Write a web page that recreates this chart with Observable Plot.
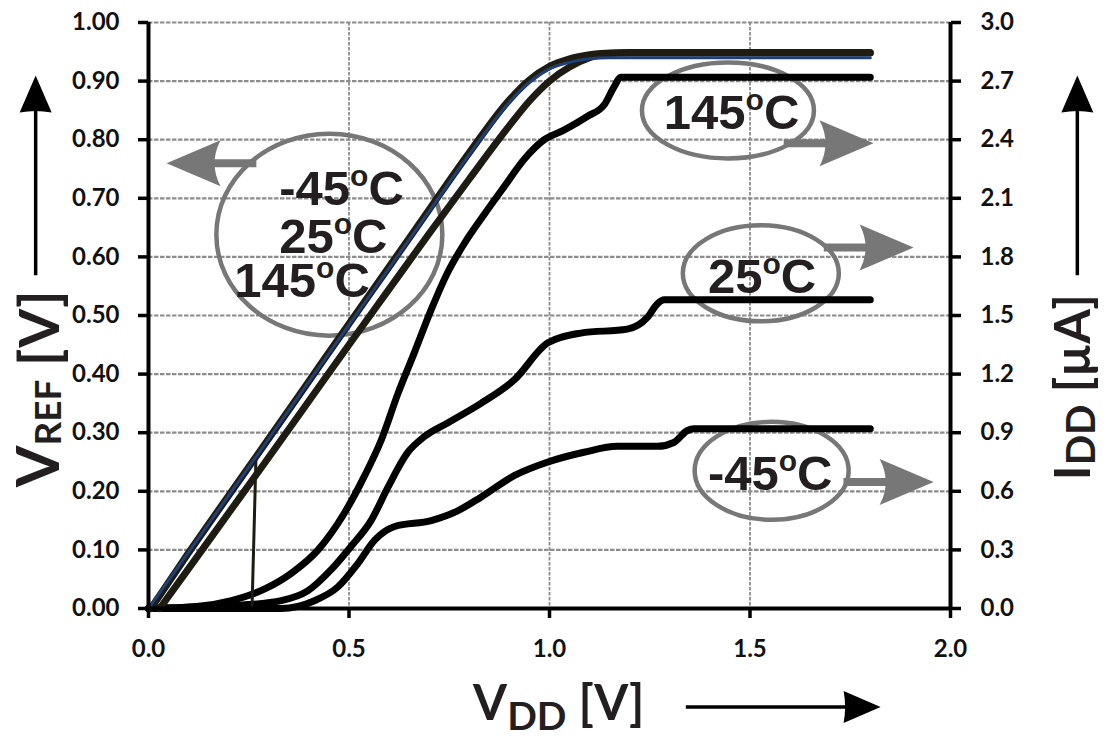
<!DOCTYPE html>
<html><head><meta charset="utf-8">
<script src="https://cdn.jsdelivr.net/npm/d3@7"></script>
<script src="https://cdn.jsdelivr.net/npm/@observablehq/plot@0.6"></script>
<style>body{margin:0;background:#fff}#chart{width:1107px;height:738px}</style>
</head><body><div id="chart"></div>
<script>
// ---------- axis ticks ----------
const xTicks = [0, 0.5, 1.0, 1.5, 2.0];
const yTicks = [0, 0.1, 0.2, 0.3, 0.4, 0.5, 0.6, 0.7, 0.8, 0.9, 1.0];
const iddTickLabels = ["0.0","0.3","0.6","0.9","1.2","1.5","1.8","2.1","2.4","2.7","3.0"];
const iddMax = 3.0; // right axis top (µA) aligned with VREF 1.00

// ---------- IDD curves (µA, right axis) ----------
const vddIdd145 = [0, 0.12, 0.207, 0.29, 0.356, 0.423, 0.489, 0.539, 0.58, 0.622, 0.663, 0.705, 0.746, 0.788, 0.838, 0.887, 0.937, 0.987, 1.037, 1.095, 1.137, 1.161, 1.178, 1.8];
const idd145    = [0, 0.01, 0.04, 0.10, 0.18, 0.30, 0.49, 0.68, 0.86, 1.10, 1.31, 1.53, 1.72, 1.87, 2.02, 2.16, 2.30, 2.40, 2.45, 2.52, 2.58, 2.67, 2.72, 2.72];

const vddIdd25 = [0, 0.248, 0.331, 0.397, 0.456, 0.506, 0.555, 0.597, 0.647, 0.688, 0.746, 0.829, 0.912, 0.996, 1.078, 1.194, 1.244, 1.269, 1.286, 1.8];
const idd25    = [0, 0.02, 0.04, 0.09, 0.20, 0.32, 0.45, 0.62, 0.80, 0.88, 0.95, 1.05, 1.17, 1.36, 1.41, 1.43, 1.49, 1.56, 1.58, 1.58];

const vddIddM45 = [0, 0.331, 0.414, 0.472, 0.522, 0.564, 0.614, 0.705, 0.771, 0.829, 0.912, 0.996, 1.086, 1.169, 1.269, 1.31, 1.343, 1.36, 1.8];
const iddM45    = [0, 0, 0.04, 0.11, 0.23, 0.35, 0.42, 0.45, 0.50, 0.57, 0.68, 0.75, 0.80, 0.83, 0.83, 0.85, 0.91, 0.92, 0.92];

// ---------- VREF curves (V, left axis) ----------
const vddVrefC = [0.028, 0.1, 0.2, 0.3, 0.4, 0.5, 0.6, 0.7, 0.8, 0.9, 0.95, 1.0, 1.05, 1.1, 1.15, 1.2, 1.8];
const vrefC    = [0, 0.068, 0.163, 0.258, 0.354, 0.45, 0.545, 0.64, 0.733, 0.824, 0.866, 0.9, 0.924, 0.94, 0.947, 0.949, 0.949];

const vddVrefB = [0.006, 0.1, 0.2, 0.3, 0.4, 0.5, 0.6, 0.7, 0.8, 0.9, 0.95, 1.0, 1.05, 1.1, 1.15, 1.8];
const vrefB    = [0, 0.095, 0.193, 0.29, 0.388, 0.486, 0.583, 0.681, 0.778, 0.868, 0.902, 0.925, 0.938, 0.945, 0.948, 0.948];

const vddVrefA = [0, 0.1, 0.2, 0.3, 0.4, 0.5, 0.6, 0.7, 0.8, 0.9, 0.95, 1.0, 1.05, 1.1, 1.15, 1.8];
const vrefA    = [0, 0.096, 0.193, 0.29, 0.387, 0.484, 0.581, 0.678, 0.775, 0.864, 0.898, 0.921, 0.932, 0.938, 0.940, 0.940];

const vddVrefJump = [0, 0.258, 0.262, 0.268];
const vrefJump    = [0, 0, 0.1, 0.259];

// ---------- annotations ----------
const annoEllipses = [
  {x: 0.451, y: 0.638, rx: 113, ry: 101},
  {x: 1.445, y: 0.850, rx: 86, ry: 48},
  {x: 1.527, y: 0.572, rx: 78, ry: 48},
  {x: 1.554, y: 0.235, rx: 77, ry: 49}
];
const annoTexts = [
  {x: 0.326, y: 0.688, text: "-45°C"},
  {x: 0.326, y: 0.606, text: "25°C"},
  {x: 0.214, y: 0.531, text: "145°C"},
  {x: 1.285, y: 0.819, text: "145°C"},
  {x: 1.395, y: 0.538, text: "25°C"},
  {x: 1.395, y: 0.202, text: "-45°C"}
];
const annoArrows = [
  {x1: 0.269, x2: 0.150, y1: 0.760, y2: 0.760, tx: 0.045, ty: 0.760, dir: "left"},
  {x1: 1.584, x2: 1.720, y1: 0.794, y2: 0.794, tx: 1.808, ty: 0.794, dir: "right"},
  {x1: 1.684, x2: 1.820, y1: 0.616, y2: 0.616, tx: 1.908, ty: 0.616, dir: "right"},
  {x1: 1.733, x2: 1.870, y1: 0.216, y2: 0.216, tx: 1.958, ty: 0.216, dir: "right"}
];
const titleArrows = [
  {x1: -0.2814, x2: -0.2814, y1: 0.5686, y2: 0.862, tx: -0.2814, ty: 0.9097, dir: "up"},
  {x1: 2.3163, x2: 2.3163, y1: 0.5686, y2: 0.862, tx: 2.3163, ty: 0.9097, dir: "up"},
  {x1: 1.340, x2: 1.790, y1: -0.1679, y2: -0.1679, tx: 1.8257, ty: -0.1679, dir: "right"}
];
const rotTitles = [
  {x: -0.2242, y: 0.207, parts: [["V", 60, 0], ["REF", 37, 2], [" [V]", 56, -2]]},
  {x: 2.349, y: 0.219, parts: [["I", 50, 0], ["DD", 40, 5], [" [µA]", 50, -5]]}
];
const xTitles = [
  {x: 0.8095, y: -0.190, parts: [["V", 49, 0], ["DD", 39, 10], [" [V]", 49, -10]]}
];

// ---------- helpers ----------
const rows = (xs, ys) => xs.map((x, i) => ({x, y: ys[i]}));
const joinParts = d => d.parts.map(p => p[0]).join("");
function ellipseSymbol(rx, ry) {
  const k = 0.5523;
  return {draw(ctx) {
    ctx.moveTo(rx, 0);
    ctx.bezierCurveTo(rx, k * ry, k * rx, ry, 0, ry);
    ctx.bezierCurveTo(-k * rx, ry, -rx, k * ry, -rx, 0);
    ctx.bezierCurveTo(-rx, -k * ry, -k * rx, -ry, 0, -ry);
    ctx.bezierCurveTo(k * rx, -ry, rx, -k * ry, rx, 0);
    ctx.closePath();
  }};
}
function headSymbol(dir, L, H, notch) {
  const [c, s] = dir === "left" ? [-1, 0] : dir === "up" ? [0, -1] : [1, 0];
  const P = (a, b) => [a * c - b * s, a * s + b * c];
  return {draw(ctx) {
    ctx.moveTo(0, 0);
    const p1 = P(-L, -H), q = P(-L + notch, 0), p2 = P(-L, H);
    ctx.lineTo(p1[0], p1[1]);
    ctx.quadraticCurveTo(q[0], q[1], p2[0], p2[1]);
    ctx.closePath();
  }};
}

const GRAY = "#777777", GRID = "#8c8c8c", DARK = "#1e1c12", BLUE = "#1f3f75", INK = "#231f20";
const annoFont = "'Liberation Sans', Arial, sans-serif";
const tickFont = "Lato, 'Open Sans', sans-serif";
const lineOpts = {x: "x", y: "y", curve: "monotone-x", strokeLinecap: "round", strokeLinejoin: "round"};
const iddY = d => d.y / iddMax;

const plot = Plot.plot({
  width: 1107, height: 738,
  marginLeft: 148, marginRight: 157, marginTop: 22, marginBottom: 130,
  x: {domain: [0, 2], label: null},
  y: {domain: [0, 1], label: null},
  style: {background: "#fff", fontFamily: tickFont, fontSize: "24px", fontWeight: "bold", color: INK, overflow: "visible"},
  marks: [
    Plot.gridY(yTicks.slice(1), {stroke: GRID, strokeOpacity: 1, strokeWidth: 2.2, strokeDasharray: "4.5,1.5"}),
    Plot.gridX([0.5, 1.0, 1.5], {stroke: GRID, strokeOpacity: 1, strokeWidth: 1.8, strokeDasharray: "3.5,1.5"}),
    ...annoEllipses.map(e => Plot.dot([e], {x: "x", y: "y", r: 10, symbol: ellipseSymbol(e.rx, e.ry), fill: "none", stroke: GRAY, strokeWidth: 4.5})),
    Plot.text(annoTexts, {x: "x", y: "y", text: "text", textAnchor: "start", fontFamily: annoFont, fontSize: 49, fontWeight: "bold", fill: INK}),
    Plot.link(annoArrows, {x1: "x1", y1: "y1", x2: "x2", y2: "y2", stroke: GRAY, strokeWidth: 8}),
    ...annoArrows.map(a => Plot.dot([a], {x: "tx", y: "ty", r: 10, symbol: headSymbol(a.dir, 54, 23, 12), fill: GRAY, stroke: "none"})),
    // IDD curves
    Plot.line(rows(vddIddM45, iddM45), {...lineOpts, y: iddY, stroke: "#000", strokeWidth: 7}),
    Plot.line(rows(vddIdd25, idd25), {...lineOpts, y: iddY, stroke: "#000", strokeWidth: 7}),
    Plot.line(rows(vddIdd145, idd145), {...lineOpts, y: iddY, stroke: "#000", strokeWidth: 7}),
    // VREF curves
    Plot.line(rows(vddVrefJump, vrefJump), {x: "x", y: "y", stroke: DARK, strokeWidth: 3}),
    Plot.line(rows(vddVrefC, vrefC), {...lineOpts, stroke: DARK, strokeWidth: 7}),
    Plot.line(rows(vddVrefB, vrefB), {...lineOpts, stroke: DARK, strokeWidth: 7}),
    Plot.line(rows(vddVrefA, vrefA), {...lineOpts, stroke: BLUE, strokeWidth: 3}),
    // axes
    Plot.ruleX([0, 2], {stroke: "#000", strokeWidth: 4}),
    Plot.ruleY([0], {stroke: "#000", strokeWidth: 4}),
    Plot.axisY(yTicks, {anchor: "left", tickSize: 10, tickPadding: 19, strokeWidth: 3.5, stroke: "#000", tickFormat: d3.format(".2f"), label: null, fontSize: 24, fontWeight: "bold", fontFamily: tickFont, fill: "#111"}),
    Plot.axisY(yTicks, {anchor: "right", tickSize: 10, tickPadding: 20, strokeWidth: 3.5, stroke: "#000", tickFormat: d => iddTickLabels[Math.round(d * 10)], label: null, fontSize: 24, fontWeight: "bold", fontFamily: tickFont, fill: "#111"}),
    Plot.axisX(xTicks, {anchor: "bottom", tickSize: 10, tickPadding: 21, strokeWidth: 3.5, stroke: "#000", tickFormat: d3.format(".1f"), label: null, fontSize: 24, fontWeight: "bold", fontFamily: tickFont, fill: "#111"}),
    // axis titles and arrows
    Plot.link(titleArrows, {x1: "x1", y1: "y1", x2: "x2", y2: "y2", stroke: "#000", strokeWidth: 3.5}),
    ...titleArrows.map(a => Plot.dot([a], {x: "tx", y: "ty", r: 10, symbol: headSymbol(a.dir, 37, 16, 3), fill: "#000", stroke: "none"})),
    Plot.text(rotTitles, {x: "x", y: "y", text: joinParts, rotate: -90, textAnchor: "start", fontFamily: tickFont, fontWeight: "bold", fill: INK}),
    Plot.text(xTitles, {x: "x", y: "y", text: joinParts, textAnchor: "start", fontFamily: tickFont, fontWeight: "bold", fill: INK})
  ]
});

// rich text: subscripts and superscript "o" (matched by text content)
const richMap = new Map();
for (const d of [...rotTitles, ...xTitles]) richMap.set(joinParts(d), d.parts);
for (const d of annoTexts) {
  const [a, b] = d.text.split("°");
  richMap.set(d.text, [[a, 49, 0], ["o", 30, -19], [b, 49, 19]]);
}
for (const node of Array.from(plot.querySelectorAll("text"))) {
  const parts = richMap.get(node.textContent);
  if (!parts) continue;
  while (node.firstChild) node.removeChild(node.firstChild);
  node.removeAttribute("y");
  node.removeAttribute("dy");
  for (const [str, size, dy] of parts) {
    const ts = document.createElementNS("http://www.w3.org/2000/svg", "tspan");
    ts.setAttribute("font-size", size);
    ts.setAttribute("dy", dy);
    ts.textContent = str;
    node.appendChild(ts);
  }
}

document.getElementById("chart").appendChild(plot);
</script>
</body></html>
